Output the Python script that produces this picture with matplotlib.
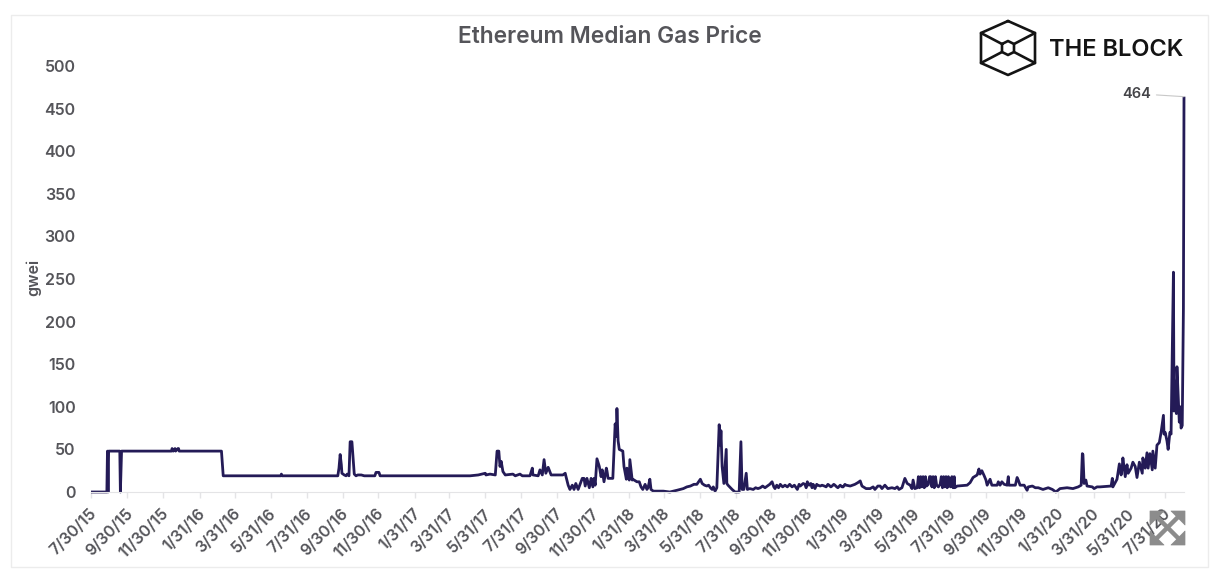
"""
Ethereum median gas price, The Block style chart.
"""
import matplotlib
matplotlib.use("Agg")

import matplotlib.pyplot as plt
import matplotlib.transforms as mtrans
import pandas as pd
from matplotlib.patches import Polygon, Rectangle

plt.rcParams["font.family"] = ["Inter", "DejaVu Sans"]

TEXT_GREY = "#55555a"
LINE_COLOR = "#241b57"
AXIS_GREY = "#e4e4e6"
ICON_GREY = "#8c8c8c"

START_DATE = "2015-07-30"

tick_labels = [
    "7/30/15", "9/30/15", "11/30/15", "1/31/16", "3/31/16", "5/31/16", "7/31/16", "9/30/16",
    "11/30/16", "1/31/17", "3/31/17", "5/31/17", "7/31/17", "9/30/17", "11/30/17", "1/31/18",
    "3/31/18", "5/31/18", "7/31/18", "9/30/18", "11/30/18", "1/31/19", "3/31/19", "5/31/19",
    "7/31/19", "9/30/19", "11/30/19", "1/31/20", "3/31/20", "5/31/20", "7/31/20",
]
y_ticks = [0, 50, 100, 150, 200, 250, 300, 350, 400, 450, 500]

# days since 7/30/15
days_2015_16 = [
    0, 27, 28, 29, 30, 31, 49, 50, 52, 137, 138, 140, 143, 144, 148, 149, 150, 222, 225,
    323, 324, 325, 420, 422, 424, 426, 427, 431, 434, 436, 439, 441, 444, 446, 448, 451,
    454, 460, 465, 475, 483, 485, 490, 492,
]
gwei_2015_16 = [
    0, 0, 48, 0, 48, 48, 48, 0, 48, 48, 51, 48, 51, 48, 51, 51, 48, 48, 19,
    19, 21, 19, 19, 28, 44, 32, 22, 20, 19, 21, 19, 59, 59, 40, 21, 19,
    20, 20, 19, 19, 19, 23, 23, 19,
]

days_2017 = [
    645, 659, 671, 672, 679, 688, 691, 694, 696, 698, 701, 705, 718, 722, 730, 734, 747,
    751, 752, 761, 764, 768, 771, 774, 778, 783, 803, 807, 808, 812, 815, 819, 822, 825,
    829, 836, 839, 841, 844, 848, 851, 854, 856, 858, 861, 865, 868, 870, 873, 877, 878,
    880, 888,
]
gwei_2017 = [
    19, 20, 22, 20, 21, 20, 48, 48, 30, 36, 24, 20, 21, 19, 21, 19, 19,
    28, 20, 19, 26, 20, 38, 22, 29, 20, 20, 22, 19, 8, 3, 8, 3, 10,
    3, 16, 16, 7, 16, 5, 16, 6, 16, 8, 39, 30, 18, 26, 12, 28, 25,
    16, 16,
]

days_early_2018 = [
    892, 894, 895, 897, 899, 905, 907, 911, 912, 916, 917, 921, 922, 929, 933, 936, 939,
    943, 946, 948, 951, 953, 957, 974, 985, 997, 1008, 1014, 1020, 1026, 1031, 1037, 1040,
    1044, 1048, 1051, 1054, 1057, 1059, 1062, 1065, 1069, 1071, 1072, 1074, 1077, 1081, 1082,
    1084, 1091, 1096, 1103, 1106, 1108, 1111, 1115,
]
gwei_early_2018 = [
    80, 65, 98, 60, 50, 48, 30, 15, 28, 14, 38, 14, 15, 12, 12, 6, 3,
    9, 3, 5, 15, 3, 1, 1, 0, 2, 4, 6, 7, 9, 9, 15, 10,
    8, 7, 8, 5, 3, 6, 1, 5, 79, 55, 72, 30, 10, 50, 10,
    8, 3, 0, 0, 59, 3, 3, 22,
]

days_late_2018 = [
    1117, 1121, 1127, 1131, 1135, 1139, 1143, 1147, 1151, 1155, 1159, 1162, 1164, 1167, 1170,
    1173, 1177, 1181, 1185, 1189, 1193, 1197, 1202, 1205, 1207, 1212, 1215, 1217, 1219, 1222,
    1225, 1227, 1229, 1232, 1235, 1237, 1241, 1244, 1248, 1251, 1254, 1256, 1259, 1261, 1264,
    1266, 1269, 1271, 1275, 1278, 1280, 1283, 1285,
]
gwei_late_2018 = [
    3, 4, 3, 5, 4, 5, 7, 5, 7, 9, 12, 6, 4, 8, 5,
    9, 6, 8, 6, 9, 6, 8, 3, 9, 7, 10, 9, 5, 12, 8,
    10, 5, 9, 4, 9, 8, 7, 8, 7, 6, 9, 8, 6, 7, 9,
    8, 6, 5, 8, 6, 6, 9, 8,
]

days_2019 = [
    1292, 1300, 1305, 1309, 1312, 1319, 1326, 1331, 1334, 1339, 1343, 1346, 1351, 1356, 1363,
    1368, 1372, 1375, 1380, 1385, 1389, 1394, 1397, 1399, 1402, 1406, 1408, 1410, 1412, 1414,
    1416, 1418, 1420, 1422, 1425, 1427, 1429, 1431, 1433, 1435, 1437, 1439, 1442, 1445, 1447,
    1449, 1451, 1453, 1455, 1457, 1459, 1461, 1463, 1465, 1467, 1469, 1470, 1474, 1491, 1496,
    1501, 1508, 1511, 1513, 1516, 1520, 1523, 1525, 1530, 1533, 1542, 1544, 1547, 1550, 1554,
    1559, 1561, 1562, 1573, 1576, 1578, 1581, 1588, 1593, 1595, 1602, 1607, 1612, 1620, 1629,
]
gwei_2019 = [
    7, 9, 11, 13, 7, 4, 4, 6, 3, 7, 7, 4, 8, 4, 5,
    4, 6, 3, 5, 16, 10, 8, 4, 14, 4, 5, 18, 5, 18, 6,
    18, 5, 18, 7, 9, 18, 18, 6, 18, 5, 18, 8, 6, 9, 18,
    5, 18, 6, 18, 5, 18, 7, 6, 18, 5, 18, 5, 7, 8, 11,
    17, 20, 27, 21, 25, 19, 14, 8, 15, 8, 8, 12, 8, 12, 9,
    8, 18, 8, 8, 17, 14, 8, 8, 2, 6, 7, 5, 5, 3, 5,
]

days_2020 = [
    1636, 1642, 1649, 1661, 1671, 1680, 1685, 1687, 1688, 1690, 1693, 1695, 1704, 1707, 1712,
    1717, 1736, 1738, 1739, 1746, 1750, 1753, 1755, 1756, 1760, 1763, 1765, 1770, 1773, 1777,
    1780, 1784, 1789, 1790, 1794, 1797, 1799, 1802, 1806, 1807, 1811, 1814, 1818, 1821, 1825,
    1826, 1828, 1831, 1833, 1836, 1838, 1842, 1843, 1845, 1847, 1848, 1852, 1854, 1855, 1857,
    1859, 1860,
]
gwei_2020 = [
    3, 0, 4, 5, 4, 6, 8, 45, 44, 10, 14, 7, 6, 4, 6,
    6, 7, 16, 6, 15, 33, 20, 30, 40, 18, 32, 22, 28, 35, 30,
    17, 35, 22, 40, 28, 46, 28, 45, 26, 48, 28, 55, 58, 70, 90,
    68, 70, 60, 50, 70, 68, 258, 95, 130, 92, 147, 82, 100, 75, 78,
    215, 464,
]

days = days_2015_16 + days_2017 + days_early_2018 + days_late_2018 + days_2019 + days_2020
gwei = gwei_2015_16 + gwei_2017 + gwei_early_2018 + gwei_late_2018 + gwei_2019 + gwei_2020

W, H = 1218, 574
fig = plt.figure(figsize=(W / 100, H / 100), dpi=100, facecolor="white")

# plot area: x 91..1184 px, y 492 (0) .. 66 (500) px
ax = fig.add_axes([91 / W, 1 - 492 / H, (1184 - 91) / W, (492 - 66) / H])
ax.plot(days, gwei, color=LINE_COLOR, lw=2.0, solid_joinstyle="round", solid_capstyle="butt",
        clip_on=False)
ax.set_xlim(0, 1860)
ax.set_ylim(0, 500)

tick_days = [(pd.to_datetime(t, format="%m/%d/%y") - pd.Timestamp(START_DATE)).days for t in tick_labels]
ax.set_xticks(tick_days)
ax.set_xticklabels(tick_labels, rotation=45, ha="right", va="top", rotation_mode="anchor",
                   fontsize=11.5, color=TEXT_GREY, fontweight="semibold")
ax.set_yticks(y_ticks)
ax.tick_params(axis="x", length=4, width=1, color=AXIS_GREY, pad=6)
ax.tick_params(axis="y", length=0, pad=11, labelsize=11.5, labelcolor=TEXT_GREY)
for lab in ax.get_yticklabels():
    lab.set_fontweight("semibold")

# labels sit a little left of their ticks in the original
shift = mtrans.ScaledTranslation(-2 / 100, 0, fig.dpi_scale_trans)
for lab in ax.get_xticklabels():
    lab.set_transform(lab.get_transform() + shift)

for side in ["top", "right", "left"]:
    ax.spines[side].set_visible(False)
ax.spines["bottom"].set_color(AXIS_GREY)
ax.patch.set_alpha(0)

ax.annotate("464", xy=(1860, 464), xytext=(-62, 3), textcoords="offset pixels",
            fontsize=10.5, color="#444448", fontweight="semibold", ha="left", va="center",
            arrowprops=dict(arrowstyle="-", color="#c8c8c8", lw=0.8, shrinkA=2, shrinkB=0))

# overlay in pixel coordinates for frame, titles, logo and expand icon
over = fig.add_axes([0, 0, 1, 1], zorder=5)
over.set_xlim(0, W)
over.set_ylim(H, 0)
over.axis("off")

over.add_patch(Rectangle((11, 15), 1197, 551.5, fill=False, ec="#ececec", lw=1))
over.text(610, 37, "Ethereum Median Gas Price", ha="center", va="center", fontsize=16.4,
          color=TEXT_GREY, fontweight="semibold")
over.text(33, 277, "gwei", rotation=90, ha="center", va="center", fontsize=11.5,
          color=TEXT_GREY, fontweight="semibold")

# logo
logo_kw = dict(color="#141414", lw=1.9, solid_capstyle="round", solid_joinstyle="round")
over.plot([1008, 1035, 1035, 1008, 981, 981, 1008], [21, 33, 63, 75, 63, 33, 21], **logo_kw)
over.plot([1002, 1008, 1014, 1014, 1008, 1002, 1002], [44, 41, 44, 52, 55, 52, 44], **logo_kw)
over.plot([981, 1002], [33, 44], **logo_kw)
over.plot([1035, 1014], [33, 44], **logo_kw)
over.plot([981, 1002], [63, 52], **logo_kw)
over.plot([1035, 1014], [63, 52], **logo_kw)
over.text(1049, 49.5, "THE BLOCK", ha="left", va="center", fontsize=17, color="#141414",
          fontweight="semibold")

# expand icon
icon_kw = dict(color=ICON_GREY, lw=3.2, solid_capstyle="butt")
over.plot([1156, 1179], [516, 539], **icon_kw)
over.plot([1179, 1156], [516, 539], **icon_kw)
for tri in [[(1150, 511), (1164, 511), (1150, 525)], [(1185, 511), (1171, 511), (1185, 525)],
            [(1150, 545), (1164, 545), (1150, 531)], [(1185, 545), (1171, 545), (1185, 531)]]:
    over.add_patch(Polygon(tri, closed=True, fc=ICON_GREY, ec=ICON_GREY, lw=0.5, joinstyle="round"))

fig.savefig("out.png", dpi=100, facecolor="white")
